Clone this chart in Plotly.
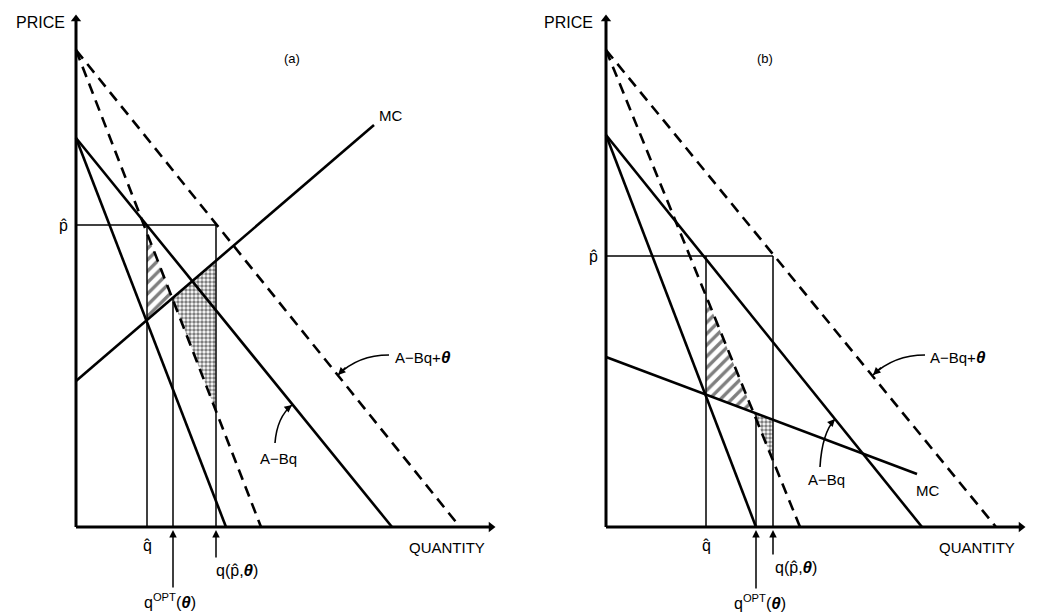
import plotly.graph_objects as go

# ---------------- data (quantity, price units) ----------------
# panel (a)
a_demand_q = [0, 316];   a_demand_p = [389, 0]      # A - Bq
a_dtheta_q = [0, 384];   a_dtheta_p = [477, 0]      # A - Bq + theta
a_mr_q = [0, 150];       a_mr_p = [389, 0]          # marginal revenue
a_mrt_q = [0, 185];      a_mrt_p = [477, 0]         # marginal revenue + theta
a_mc_q = [0, 298];       a_mc_p = [146, 402]        # MC
a_qhat, a_qopt, a_qpt = 71, 97, 140
a_phat = 302

# panel (b)
b_demand_q = [0, 316];   b_demand_p = [392, 0]
b_dtheta_q = [0, 390];   b_dtheta_p = [477, 0]
b_mr_q = [0, 150];       b_mr_p = [392, 0]
b_mrt_q = [0, 194];      b_mrt_p = [477, 0]
b_mc_q = [0, 311];       b_mc_p = [170, 53]
b_qhat, b_qopt, b_qpt = 100, 150, 167
b_phat = 271

axis_q_end = 419
axis_p_end = 512

FONT = "Liberation Sans"
THETA = "<b><i><span style='font-size:17px'>θ</span></i></b>"


def p_at(lq, lp, q):
    return lp[0] + (lp[1] - lp[0]) * (q - lq[0]) / (lq[1] - lq[0])


def intersect(l1q, l1p, l2q, l2p):
    s1 = (l1p[1] - l1p[0]) / (l1q[1] - l1q[0])
    s2 = (l2p[1] - l2p[0]) / (l2q[1] - l2q[0])
    c1 = l1p[0] - s1 * l1q[0]
    c2 = l2p[0] - s2 * l2q[0]
    q = (c2 - c1) / (s1 - s2)
    return q, c1 + s1 * q


fig = go.Figure()
annotations = []
shapes = []


def panel(xa, ya, dq, dp, tq, tp, mq, mp, mtq, mtp, cq, cp, qhat, qopt, qpt, phat,
          tag, lab_pos, mc_lab, abq_lab, abq_arrow, abqt_lab, abqt_arrow,
          price_x, qopt_lab, qpt_lab):
    def add_line(q, p, width=2.6, dash=None):
        fig.add_trace(go.Scatter(x=q, y=p, mode="lines", xaxis=xa, yaxis=ya,
                                 line=dict(color="black", width=width, dash=dash),
                                 hoverinfo="skip", showlegend=False))

    # shaded regions
    xq, xp = intersect(cq, cp, mtq, mtp)
    hatch_q = [qhat, qhat, xq, qhat]
    hatch_p = [p_at(mtq, mtp, qhat), p_at(cq, cp, qhat), xp, p_at(mtq, mtp, qhat)]
    fig.add_trace(go.Scatter(x=hatch_q, y=hatch_p, mode="lines", fill="toself",
                             xaxis=xa, yaxis=ya, line=dict(width=0),
                             fillcolor="white",
                             fillpattern=dict(shape="/", fgcolor="black", bgcolor="white",
                                              size=8, solidity=0.42),
                             hoverinfo="skip", showlegend=False))
    dot_q = [xq, qpt, qpt, xq]
    dot_p = [xp, p_at(cq, cp, qpt), p_at(mtq, mtp, qpt), xp]
    fig.add_trace(go.Scatter(x=dot_q, y=dot_p, mode="lines", fill="toself",
                             xaxis=xa, yaxis=ya, line=dict(width=0),
                             fillcolor="white",
                             fillpattern=dict(shape=".", fgcolor="black", bgcolor="white",
                                              size=4, solidity=0.6),
                             hoverinfo="skip", showlegend=False))

    # thin guide lines
    add_line([0, qpt], [phat, phat], width=1.5)
    add_line([qhat, qhat], [phat, 0], width=1.5)
    add_line([qpt, qpt], [phat, 0], width=1.5)
    add_line([qopt, qopt], [p_at(cq, cp, qopt), 0], width=1.5)

    # curves
    add_line(dq, dp)
    add_line(mq, mp)
    add_line(tq, tp, dash="11px,7px")
    add_line(mtq, mtp, dash="11px,7px")
    add_line(cq, cp)

    # axes
    add_line([0, 0], [0, axis_p_end - 4], width=3)
    add_line([0, axis_q_end - 4], [0, 0], width=3)
    fig.add_trace(go.Scatter(x=[0], y=[axis_p_end - 4], mode="markers", xaxis=xa, yaxis=ya,
                             marker=dict(symbol="triangle-up", size=9, color="black"),
                             hoverinfo="skip", showlegend=False))
    fig.add_trace(go.Scatter(x=[axis_q_end - 4], y=[0], mode="markers", xaxis=xa, yaxis=ya,
                             marker=dict(symbol="triangle-right", size=9, color="black"),
                             hoverinfo="skip", showlegend=False))

    def txt(x, y, s, size=14, xanchor="center", yanchor="middle"):
        annotations.append(dict(x=x, y=y, xref=xa, yref=ya, text=s, showarrow=False,
                                xanchor=xanchor, yanchor=yanchor,
                                font=dict(family=FONT, size=size, color="black")))

    def arrow(x, y, ax, ay, head=2, size=1.0, width=1.5):
        annotations.append(dict(x=x, y=y, ax=ax, ay=ay, xref=xa, yref=ya,
                                axref=xa, ayref=ya, text="", showarrow=True,
                                arrowhead=head, arrowsize=size, arrowwidth=width,
                                arrowcolor="black", standoff=0, startstandoff=0))

    def curve(p0, c, p1):
        shapes.append(dict(type="path", xref=xa, yref=ya,
                           path=f"M {p0[0]},{p0[1]} Q {c[0]},{c[1]} {p1[0]},{p1[1]}",
                           line=dict(color="black", width=1.6)))

    txt(price_x, 505, "PRICE", size=16, xanchor="right")
    txt(lab_pos[0], lab_pos[1], tag, size=13)
    txt(-6, phat, "p̂", size=16, xanchor="right")
    txt(mc_lab[0], mc_lab[1], "MC", size=15)
    txt(abq_lab[0], abq_lab[1], "A−Bq", size=15)
    txt(abqt_lab[0], abqt_lab[1], "A−Bq+" + THETA, size=15, xanchor="left")
    txt(331, -20, "QUANTITY", size=15, xanchor="left")
    txt(qhat, -18, "q̂", size=16)
    txt(qopt_lab[0], qopt_lab[1], "q<sup>OPT</sup>(" + THETA + ")", size=16)
    txt(qpt_lab[0], qpt_lab[1], "q(p̂," + THETA + ")", size=16)

    # curved leader arrows
    (s0, c0, e0) = abq_arrow
    curve(s0, c0, e0)
    arrow(e0[0], e0[1], c0[0] + (e0[0] - c0[0]) * 0.55, c0[1] + (e0[1] - c0[1]) * 0.55)
    (s1, c1, e1) = abqt_arrow
    curve(s1, c1, e1)
    arrow(e1[0], e1[1], c1[0] + (e1[0] - c1[0]) * 0.55, c1[1] + (e1[1] - c1[1]) * 0.55)

    # arrows pointing at the quantity axis
    arrow(qopt, -3, qopt, qopt_lab[1] + 12)
    arrow(qpt, -3, qpt, qpt_lab[1] + 11)


panel("x", "y", a_demand_q, a_demand_p, a_dtheta_q, a_dtheta_p, a_mr_q, a_mr_p,
      a_mrt_q, a_mrt_p, a_mc_q, a_mc_p, a_qhat, a_qopt, a_qpt, a_phat,
      "(a)", (216, 469), (314, 412), (202, 69),
      ((199, 84), (201, 110), (216, 122)),
      (317, 170), ((313, 172), (282, 172), (262, 152)),
      -9, (94, -74), (161, -43))

panel("x2", "y2", b_demand_q, b_demand_p, b_dtheta_q, b_dtheta_p, b_mr_q, b_mr_p,
      b_mrt_q, b_mrt_p, b_mc_q, b_mc_p, b_qhat, b_qopt, b_qpt, b_phat,
      "(b)", (159, 469), (321, 37), (220, 48),
      ((214, 60), (216, 94), (229, 108)),
      (322, 170), ((319, 172), (288, 172), (267, 152)),
      -11, (154, -75), (190, -40))

ax_common = dict(visible=False, showgrid=False, zeroline=False, fixedrange=True)
fig.update_layout(
    width=1040, height=612,
    margin=dict(l=0, r=0, t=0, b=0),
    paper_bgcolor="white", plot_bgcolor="white",
    xaxis=dict(range=[-76, 444], domain=[0, 0.5], **ax_common),
    yaxis=dict(range=[-85, 527], domain=[0, 1], anchor="x", **ax_common),
    xaxis2=dict(range=[-86, 434], domain=[0.5, 1], **ax_common),
    yaxis2=dict(range=[-85, 527], domain=[0, 1], anchor="x2", **ax_common),
    annotations=annotations,
    shapes=shapes,
    showlegend=False,
)

fig.write_html("out.html", config={"displayModeBar": False},
               post_script="document.body.style.margin='0px';document.body.style.overflow='hidden';")
